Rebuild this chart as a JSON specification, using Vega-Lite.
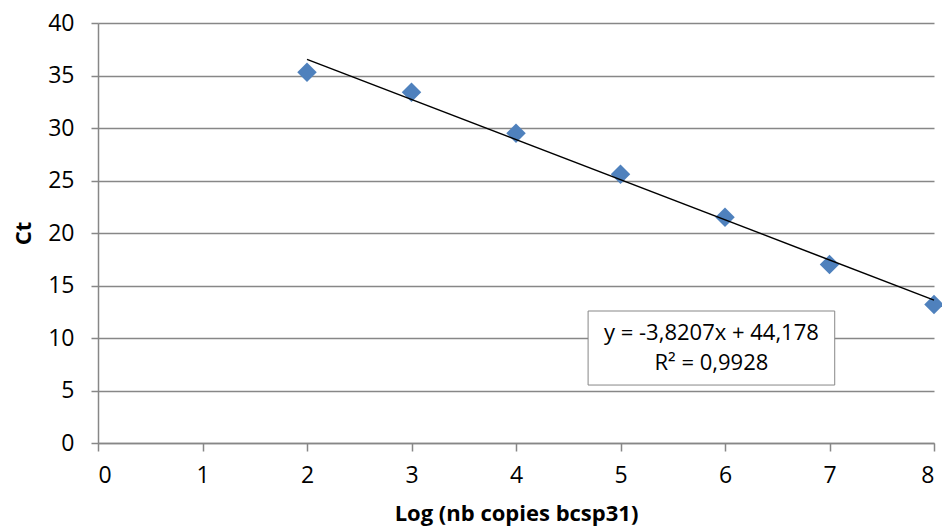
{
  "$schema": "https://vega.github.io/schema/vega-lite/v6.json",
  "width": 836,
  "height": 420,
  "autosize": {"type": "none"},
  "padding": {"left": 98, "top": 23, "right": 8, "bottom": 88},
  "background": "white",
  "config": {
    "view": {"stroke": null},
    "font": "Open Sans",
    "axis": {
      "titleFontSize": 22, "titleFontWeight": "bold", "titleColor": "black",
      "domainColor": "#878787", "domainWidth": 1.5,
      "tickColor": "#878787", "tickWidth": 1.5,
      "labelFontSize": 23, "labelColor": "black", "labelFont": "Open Sans", "titleFont": "Open Sans",
      "gridColor": "#878787", "gridWidth": 1.5
    },
    "axisX": {"grid": false, "tickSize": 8, "labelPadding": 13, "titlePadding": 16},
    "axisY": {"grid": true, "tickSize": 7, "labelPadding": 17, "titlePadding": 12}
  },
  "datasets": {
    "points": [
      {"log": 2, "ct": 35.3},
      {"log": 3, "ct": 33.4},
      {"log": 4, "ct": 29.5},
      {"log": 5, "ct": 25.6},
      {"log": 6, "ct": 21.5},
      {"log": 7, "ct": 17.0},
      {"log": 8, "ct": 13.2}
    ],
    "trend": [
      {"log": 2, "ct": 36.54},
      {"log": 8, "ct": 13.61}
    ],
    "box": [
      {"x1": 4.69, "x2": 7.05, "y1": 5.52, "y2": 12.57}
    ],
    "labels": [
      {"x": 5.87, "y": 10.5, "t": "y = -3,8207x + 44,178"},
      {"x": 5.87, "y": 7.6, "t": "R² = 0,9928"}
    ]
  },
  "encoding": {
    "x": {
      "field": "log", "type": "quantitative",
      "scale": {"domain": [0, 8], "nice": false},
      "axis": {"title": "Log (nb copies bcsp31)", "values": [0, 1, 2, 3, 4, 5, 6, 7, 8], "format": "d"}
    },
    "y": {
      "field": "ct", "type": "quantitative",
      "scale": {"domain": [0, 40], "nice": false},
      "axis": {"title": "Ct", "values": [0, 5, 10, 15, 20, 25, 30, 35, 40], "format": "d"}
    }
  },
  "layer": [
    {
      "data": {"name": "points"},
      "mark": {"type": "point", "shape": "diamond", "filled": true, "size": 380, "color": "#4F81BD", "opacity": 1}
    },
    {
      "data": {"name": "trend"},
      "mark": {"type": "line", "color": "black", "strokeWidth": 1.5}
    },
    {
      "data": {"name": "box"},
      "mark": {"type": "rect", "fill": "white", "stroke": "#878787", "strokeWidth": 1},
      "encoding": {
        "x": {"field": "x1", "type": "quantitative"},
        "x2": {"field": "x2"},
        "y": {"field": "y1", "type": "quantitative"},
        "y2": {"field": "y2"}
      }
    },
    {
      "data": {"name": "labels"},
      "mark": {"type": "text", "fontSize": 22, "color": "black", "align": "center", "baseline": "middle"},
      "encoding": {
        "x": {"field": "x", "type": "quantitative"},
        "y": {"field": "y", "type": "quantitative"},
        "text": {"field": "t"}
      }
    }
  ]
}
